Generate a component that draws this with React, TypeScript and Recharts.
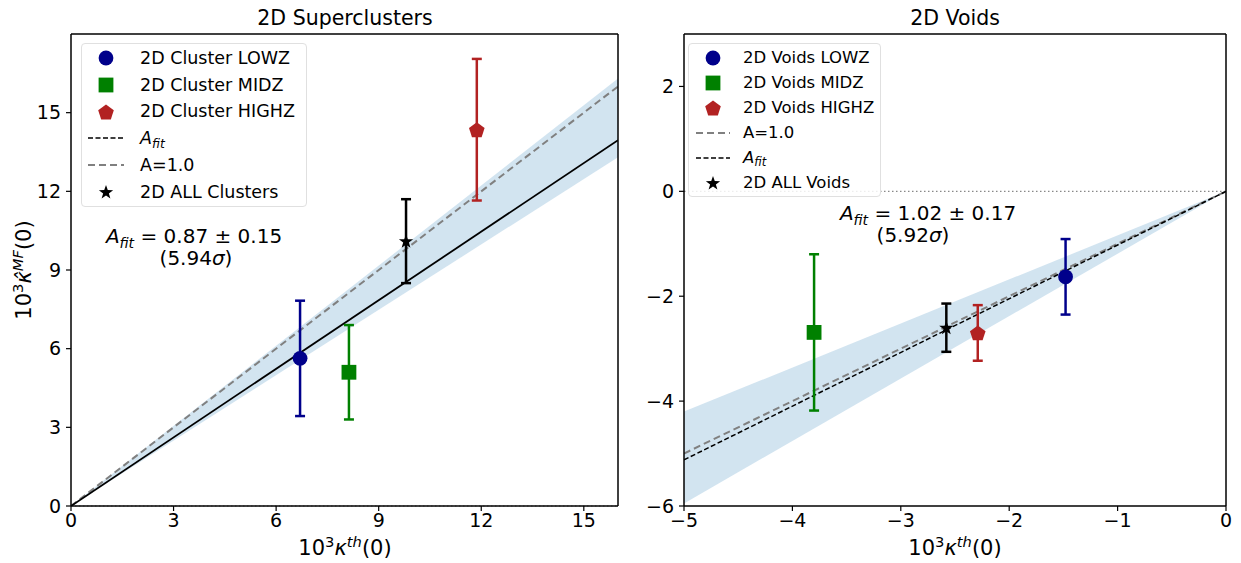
import React from "react";
import { ComposedChart, Area, Line, Scatter, ErrorBar, XAxis, YAxis, ReferenceLine } from "recharts";

const FONT = "'DejaVu Sans', Verdana, sans-serif";

// 2D Superclusters panel
const clusterNames = ["2D Cluster LOWZ", "2D Cluster MIDZ", "2D Cluster HIGHZ", "2D ALL Clusters"];
const clusterKth = [6.7, 8.13, 11.87, 9.8];
const clusterKmf = [5.63, 5.1, 14.35, 10.1];
const clusterErr = [2.2, 1.8, 2.7, 1.6];
const clusterLineX = [0, 16];
const clusterFitY = [0, 13.95];
const clusterUnityY = [0, 16];
const clusterBandLo = [0, 13.3];
const clusterBandHi = [0, 16.3];
const clusterXTicks = [0, 3, 6, 9, 12, 15];
const clusterYTicks = [0, 3, 6, 9, 12, 15];

// 2D Voids panel
const voidNames = ["2D Voids LOWZ", "2D Voids MIDZ", "2D Voids HIGHZ", "2D ALL Voids"];
const voidKth = [-1.48, -3.8, -2.29, -2.58];
const voidKmf = [-1.63, -2.69, -2.7, -2.6];
const voidErr = [0.72, 1.49, 0.53, 0.46];
const voidLineX = [-5, 0];
const voidFitY = [-5.12, 0];
const voidUnityY = [-5, 0];
const voidBandLo = [-5.95, 0];
const voidBandHi = [-4.2, 0];
const voidXTicks = [-5, -4, -3, -2, -1, 0];
const voidYTicks = [-6, -4, -2, 0, 2];

const seriesStyle = [
  { kind: "circle", color: "#00008b" },
  { kind: "square", color: "#008000" },
  { kind: "pentagon", color: "#b22222" },
  { kind: "star", color: "#000000" },
];

const polyPoints = (cx: number, cy: number, n: number, rOut: number, rIn?: number) => {
  const pts: string[] = [];
  const steps = rIn ? n * 2 : n;
  for (let i = 0; i < steps; i++) {
    const r = rIn && i % 2 === 1 ? rIn : rOut;
    const a = -Math.PI / 2 + (i * 2 * Math.PI) / steps;
    pts.push(`${cx + r * Math.cos(a)},${cy + r * Math.sin(a)}`);
  }
  return pts.join(" ");
};

const Marker = ({ kind, cx, cy, color }: { kind: string; cx: number; cy: number; color: string }) => {
  if (kind === "circle") return <circle cx={cx} cy={cy} r={7.4} fill={color} />;
  if (kind === "square") return <rect x={cx - 7.4} y={cy - 7.4} width={14.8} height={14.8} fill={color} />;
  if (kind === "pentagon") return <polygon points={polyPoints(cx, cy + 0.8, 5, 8.2)} fill={color} />;
  return <polygon points={polyPoints(cx, cy + 0.5, 5, 7.5, 3)} fill={color} />;
};

const minus = (v: number) => String(v).replace("-", "\u2212");

const tickStyle = { fill: "#000", fontSize: 19, fontFamily: FONT };

interface PanelProps {
  names: string[];
  kth: number[];
  kmf: number[];
  err: number[];
  lineX: number[];
  fitY: number[];
  unityY: number[];
  bandLo: number[];
  bandHi: number[];
  xDomain: [number, number];
  yDomain: [number, number];
  xTicks: number[];
  yTicks: number[];
  fitDashed: boolean;
  width: number;
  margin: { top: number; right: number; bottom: number; left: number };
}

const Panel = (p: PanelProps) => {
  const lineData = p.lineX.map((x, i) => ({
    x,
    fit: p.fitY[i],
    unity: p.unityY[i],
    band: [p.bandLo[i], p.bandHi[i]],
  }));

  return (
    <ComposedChart width={p.width} height={563} data={lineData} margin={p.margin}>
      <XAxis
        type="number"
        dataKey="x"
        domain={p.xDomain}
        ticks={p.xTicks}
        allowDataOverflow
        height={30}
        tickSize={5}
        tickMargin={3}
        tick={tickStyle}
        tickFormatter={minus}
        axisLine={{ stroke: "#000", strokeWidth: 1.5 }}
        tickLine={{ stroke: "#000", strokeWidth: 1.2 }}
      />
      <YAxis
        type="number"
        domain={p.yDomain}
        ticks={p.yTicks}
        allowDataOverflow
        width={40}
        tickSize={5}
        tickMargin={5}
        tick={tickStyle}
        tickFormatter={minus}
        axisLine={{ stroke: "#000", strokeWidth: 1.5 }}
        tickLine={{ stroke: "#000", strokeWidth: 1.2 }}
      />
      <Area
        dataKey="band"
        type="linear"
        fill="#1f77b4"
        fillOpacity={0.2}
        stroke="none"
        isAnimationActive={false}
      />
      <ReferenceLine y={0} stroke="#888" strokeWidth={1.2} strokeDasharray="1.5 2.5" />
      <Line
        dataKey="unity"
        type="linear"
        stroke="#808080"
        strokeWidth={2}
        strokeDasharray="7 4"
        dot={false}
        isAnimationActive={false}
      />
      <Line
        dataKey="fit"
        type="linear"
        stroke="#000"
        strokeWidth={p.fitDashed ? 1.5 : 1.8}
        strokeDasharray={p.fitDashed ? "5 2.5" : undefined}
        dot={false}
        isAnimationActive={false}
      />
      {p.names.map((name, i) => {
        const st = seriesStyle[i];
        return (
          <Scatter
            key={name}
            name={name}
            data={[{ x: p.kth[i], y: p.kmf[i], e: p.err[i] }]}
            dataKey="y"
            isAnimationActive={false}
            shape={(s: any) => <Marker kind={st.kind} cx={s.cx} cy={s.cy} color={st.color} />}
          >
            <ErrorBar dataKey="e" direction="y" width={5} stroke={st.color} strokeWidth={2.5} />
          </Scatter>
        );
      })}
      <ReferenceLine y={p.yDomain[1]} stroke="#000" strokeWidth={1.5} />
      <ReferenceLine x={p.xDomain[1]} stroke="#000" strokeWidth={1.5} />
    </ComposedChart>
  );
};

const Afit = () => (
  <span>
    <i>A</i>
    <sub style={{ fontSize: "0.7em", verticalAlign: "-0.3em" }}>
      <i>fit</i>
    </sub>
  </span>
);

const LegendMarker = ({ kind, color, w }: { kind: string; color: string; w: number }) => {
  if (kind === "dash-black" || kind === "dash-grey") {
    const grey = kind === "dash-grey";
    return (
      <svg width={w} height={10}>
        <line
          x1={0}
          y1={5}
          x2={w}
          y2={5}
          stroke={grey ? "#808080" : "#000"}
          strokeWidth={grey ? 2 : 1.5}
          strokeDasharray={grey ? "7 4" : "5 2.5"}
        />
      </svg>
    );
  }
  return (
    <svg width={20} height={20}>
      <Marker kind={kind} cx={10} cy={10} color={color} />
    </svg>
  );
};

interface LegendRow {
  label: React.ReactNode;
  kind: string;
  color: string;
}

const LegendBox = ({
  rows,
  left,
  top,
  width,
  rowH,
  markerX,
  textX,
  lineW,
  fontSize,
}: {
  rows: LegendRow[];
  left: number;
  top: number;
  width: number;
  rowH: number;
  markerX: number;
  textX: number;
  lineW: number;
  fontSize: number;
}) => (
  <div
    style={{
      position: "absolute",
      left,
      top,
      width,
      height: rows.length * rowH + 4,
      border: "1px solid #e0e0e0",
      borderRadius: 4,
      background: "rgba(255,255,255,0.85)",
      boxSizing: "border-box",
    }}
  >
    {rows.map((r, i) => {
      const isLine = r.kind.startsWith("dash");
      return (
        <div key={i} style={{ position: "absolute", top: 1 + i * rowH, left: 0, height: rowH, width: "100%" }}>
          <div
            style={{
              position: "absolute",
              left: markerX - (isLine ? lineW / 2 : 10),
              top: rowH / 2 - (isLine ? 5 : 10),
              lineHeight: 0,
            }}
          >
            <LegendMarker kind={r.kind} color={r.color} w={lineW} />
          </div>
          <div
            style={{
              position: "absolute",
              left: textX,
              top: 0,
              lineHeight: `${rowH}px`,
              fontSize,
              whiteSpace: "nowrap",
              color: "#000",
            }}
          >
            {r.label}
          </div>
        </div>
      );
    })}
  </div>
);

const TextAt = ({ x, y, size, children, rotate }: { x: number; y: number; size: number; children: React.ReactNode; rotate?: boolean }) => (
  <div
    style={{
      position: "absolute",
      left: x,
      top: y,
      transform: `translate(-50%, -50%)${rotate ? " rotate(-90deg)" : ""}`,
      fontSize: size,
      whiteSpace: "nowrap",
      color: "#000",
      lineHeight: 1,
    }}
  >
    {children}
  </div>
);

const clusterLegend: LegendRow[] = [
  { label: clusterNames[0], kind: "circle", color: seriesStyle[0].color },
  { label: clusterNames[1], kind: "square", color: seriesStyle[1].color },
  { label: clusterNames[2], kind: "pentagon", color: seriesStyle[2].color },
  { label: <Afit />, kind: "dash-black", color: "#000" },
  { label: "A=1.0", kind: "dash-grey", color: "#808080" },
  { label: clusterNames[3], kind: "star", color: "#000" },
];

const voidLegend: LegendRow[] = [
  { label: voidNames[0], kind: "circle", color: seriesStyle[0].color },
  { label: voidNames[1], kind: "square", color: seriesStyle[1].color },
  { label: voidNames[2], kind: "pentagon", color: seriesStyle[2].color },
  { label: "A=1.0", kind: "dash-grey", color: "#808080" },
  { label: <Afit />, kind: "dash-black", color: "#000" },
  { label: voidNames[3], kind: "star", color: "#000" },
];

const xLabel = (
  <span>
    10<sup style={{ fontSize: "0.7em" }}>3</sup>
    <i>κ</i>
    <sup style={{ fontSize: "0.7em" }}>
      <i>th</i>
    </sup>
    (0)
  </span>
);

const yLabel = (
  <span>
    10<sup style={{ fontSize: "0.7em" }}>3</sup>
    <i>κ̂</i>
    <sup style={{ fontSize: "0.7em" }}>
      <i>MF</i>
    </sup>
    (0)
  </span>
);

export default function App() {
  return (
    <div
      style={{
        position: "absolute",
        left: 0,
        top: 0,
        width: 1241,
        height: 563,
        background: "#fff",
        fontFamily: FONT,
        overflow: "hidden",
      }}
    >
      <div style={{ position: "absolute", left: 0, top: 0 }}>
        <Panel
          names={clusterNames}
          kth={clusterKth}
          kmf={clusterKmf}
          err={clusterErr}
          lineX={clusterLineX}
          fitY={clusterFitY}
          unityY={clusterUnityY}
          bandLo={clusterBandLo}
          bandHi={clusterBandHi}
          xDomain={[0, 16]}
          yDomain={[0, 18]}
          xTicks={clusterXTicks}
          yTicks={clusterYTicks}
          fitDashed={false}
          width={640}
          margin={{ top: 34, right: 22, bottom: 27, left: 31 }}
        />
      </div>
      <div style={{ position: "absolute", left: 620, top: 0 }}>
        <Panel
          names={voidNames}
          kth={voidKth}
          kmf={voidKmf}
          err={voidErr}
          lineX={voidLineX}
          fitY={voidFitY}
          unityY={voidUnityY}
          bandLo={voidBandLo}
          bandHi={voidBandHi}
          xDomain={[-5, 0]}
          yDomain={[-6, 3]}
          xTicks={voidXTicks}
          yTicks={voidYTicks}
          fitDashed={true}
          width={621}
          margin={{ top: 34, right: 15, bottom: 27, left: 24 }}
        />
      </div>

      <TextAt x={345} y={18} size={20.5}>2D Superclusters</TextAt>
      <TextAt x={955} y={18} size={20.5}>2D Voids</TextAt>

      <TextAt x={345} y={547} size={21}>{xLabel}</TextAt>
      <TextAt x={955} y={547} size={21}>{xLabel}</TextAt>
      <TextAt x={23} y={270} size={21} rotate>{yLabel}</TextAt>

      <TextAt x={194} y={238} size={20}>
        <Afit /> = 0.87 ± 0.15
      </TextAt>
      <TextAt x={196} y={258} size={20}>(5.94<i>σ</i>)</TextAt>
      <TextAt x={928} y={215} size={20}>
        <Afit /> = 1.02 ± 0.17
      </TextAt>
      <TextAt x={913} y={235} size={20}>(5.92<i>σ</i>)</TextAt>

      <LegendBox
        rows={clusterLegend}
        left={81}
        top={43}
        width={226}
        rowH={26.7}
        markerX={24}
        textX={58}
        lineW={36}
        fontSize={17.5}
      />
      <LegendBox
        rows={voidLegend}
        left={688}
        top={43}
        width={193}
        rowH={25}
        markerX={24}
        textX={54}
        lineW={34}
        fontSize={16.5}
      />
    </div>
  );
}
